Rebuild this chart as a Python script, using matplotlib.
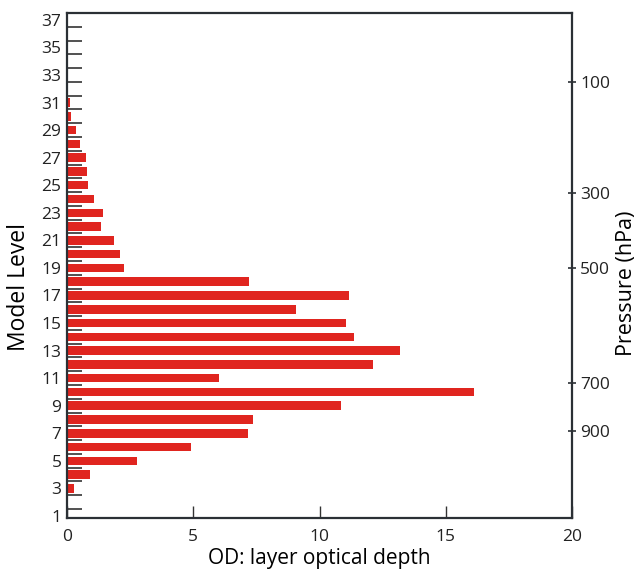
import matplotlib
matplotlib.use("Agg")
import matplotlib.pyplot as plt
import numpy as np

levels = list(range(1, 38))
od_values = [0.0, 0.0, 0.27, 0.91, 2.79, 4.9, 7.16, 7.37, 10.85, 16.1,
             6.03, 12.1, 13.18, 11.36, 11.06, 9.07, 11.17, 7.2, 2.25, 2.1,
             1.88, 1.36, 1.44, 1.08, 0.83, 0.8, 0.76, 0.52, 0.34, 0.14,
             0.13, 0.03, 0.0, 0.0, 0.0, 0.0, 0.0]
level_tick_labels = [1, 3, 5, 7, 9, 11, 13, 15, 17, 19, 21, 23, 25, 27, 29, 31, 33, 35, 37]
od_ticks = [0, 5, 10, 15, 20]
pressure_labels = [100, 300, 500, 700, 900]
pressure_levels = [32.5, 24.45, 19.0, 10.65, 7.17]

plt.rcParams['font.family'] = ['Open Sans', 'DejaVu Sans']
spine_col = '#2b3035'

fig = plt.figure(figsize=(6.4, 5.72), dpi=100)
ax = fig.add_axes([0.1047, 0.0944, 0.7891, 0.8829])
ax.set_axisbelow(True)
ax.barh(levels, od_values, height=0.62, color='#e0251f', zorder=2)
ax.set_xlim(0, 20)
ax.set_ylim(0.85, 37.5)

ax.set_yticks(level_tick_labels)
ax.set_yticklabels([str(v) for v in level_tick_labels], fontsize=12.5, color='#222222')
ax.tick_params(axis='y', which='major', length=0, pad=4)
ax.set_yticks(np.arange(1.5, 37.0, 1.0), minor=True)
ax.tick_params(axis='y', which='minor', direction='in', length=11, width=1.2, color='#333333')

ax.set_xticks(od_ticks)
ax.set_xticklabels([str(v) for v in od_ticks], fontsize=12.5, color='#222222')
ax.tick_params(axis='x', which='major', direction='in', length=9, width=1.0, color='#333333', pad=8)

for s in ax.spines.values():
    s.set_color(spine_col)
    s.set_linewidth(1.6)

ax.set_xlabel('OD: layer optical depth', fontsize=15, labelpad=2)
ax.set_ylabel('Model Level', fontsize=16.5)
ax.yaxis.set_label_coords(-0.072, 0.457)

ax2 = ax.twinx()
ax2.set_ylim(ax.get_ylim())
ax2.set_yticks(pressure_levels)
ax2.set_yticklabels([str(v) for v in pressure_labels], fontsize=12.5, color='#222222')
ax2.tick_params(axis='y', direction='inout', length=6, width=1.2, color=spine_col, pad=3)
for s in ax2.spines.values():
    s.set_visible(False)
ax2.set_ylabel('Pressure (hPa)', fontsize=15.5)
ax2.yaxis.set_label_coords(1.087, 0.465)

fig.savefig('out.png', dpi=100)
